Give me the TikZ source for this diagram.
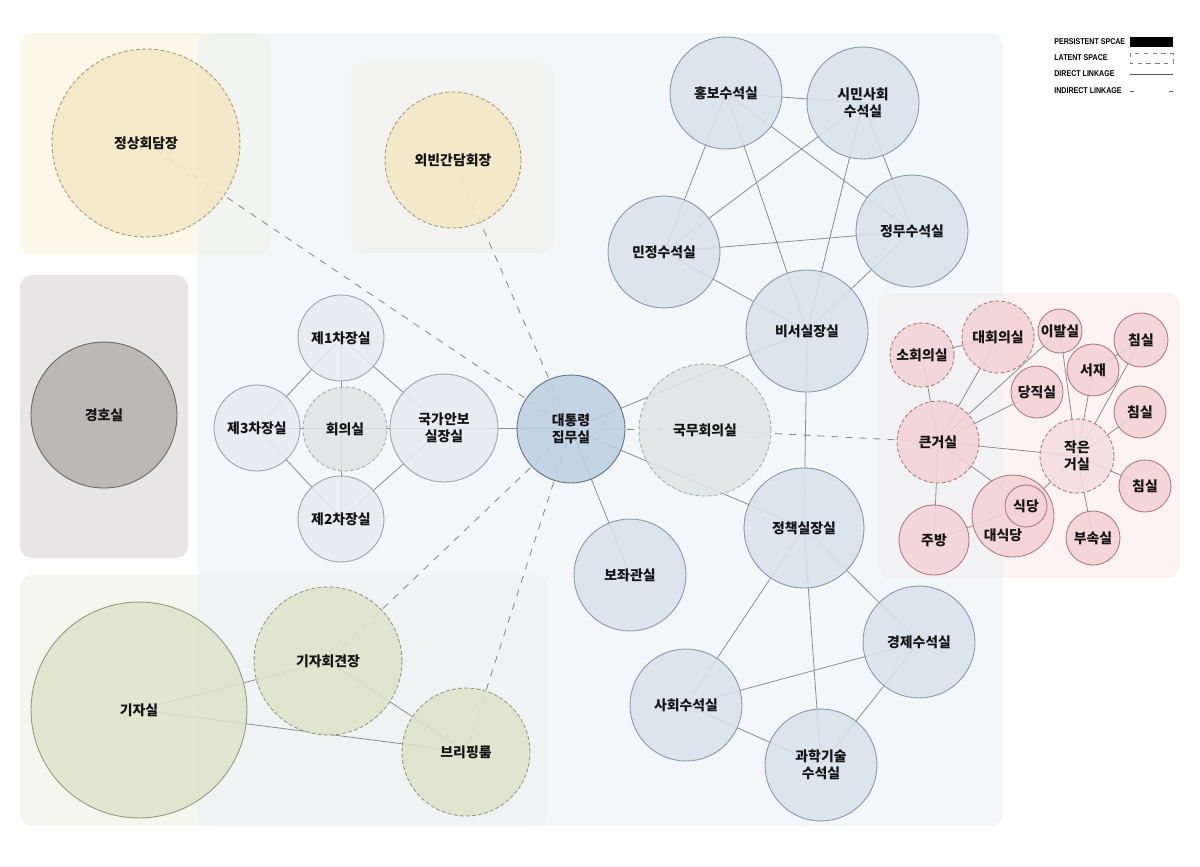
\documentclass[tikz,border=0pt]{standalone}
\usepackage{fontspec}
\usepackage{tikz}
\usetikzlibrary{positioning, calc}
\newfontfamily\kr{Noto Sans CJK KR}
\newfontfamily\leyenda{Liberation Sans}[FakeStretch=0.84]
\pgfdeclarelayer{fondo}
\pgfdeclarelayer{lineas}
\pgfsetlayers{fondo,lineas,main}
\definecolor{azulfondo}{HTML}{EBF2F7}
\definecolor{amarillofondo}{HTML}{FBF8EA}
\definecolor{grisfondo}{HTML}{F2F2F0}
\definecolor{escoltafondo}{HTML}{E7E5E6}
\definecolor{verdefondo}{HTML}{F5F6EE}
\definecolor{rosafondo}{HTML}{FDF3F3}
\definecolor{texto}{HTML}{151515}
\definecolor{linea}{HTML}{8C8C8C}
\tikzset{
	every node/.style={
		font=\kr\bfseries\fontsize{7.9}{9.6}\selectfont,
		text=texto
	},
	sala/.style={
		shape=circle,
		minimum size=#1*0.04cm,
		inner sep=0pt,
		align=center,
		draw,
		line width=0.5pt,
		fill opacity=0.88,
		text opacity=1
	},
	latente/.style={
		dash pattern=on 2.2pt off 1.3pt
	},
	secretaria/.style={
		fill={rgb,255:red,217;green,227;blue,237},
		draw={rgb,255:red,135;green,151;blue,168}
	},
	presidente/.style={
		fill={rgb,255:red,189;green,208;blue,226},
		draw={rgb,255:red,91;green,112;blue,136}
	},
	seguridad/.style={
		fill={rgb,255:red,232;green,236;blue,241},
		draw={rgb,255:red,154;green,163;blue,174}
	},
	consejo/.style={
		fill={rgb,255:red,224;green,229;blue,228},
		draw={rgb,255:red,157;green,179;blue,174},
		latente
	},
	cumbre/.style={
		fill={rgb,255:red,244;green,232;blue,196},
		draw={rgb,255:red,168;green,155;blue,120},
		latente
	},
	escolta/.style={
		fill={rgb,255:red,183;green,178;blue,176},
		draw={rgb,255:red,106;green,102;blue,99}
	},
	prensa/.style={
		fill={rgb,255:red,224;green,228;blue,203},
		draw={rgb,255:red,152;green,152;blue,126}
	},
	residencia/.style={
		fill={rgb,255:red,243;green,211;blue,214},
		draw={rgb,255:red,176;green,121;blue,126}
	},
	zona/.style={
		rounded corners=7pt
	},
	directo/.style={
		draw=linea,
		line width=0.45pt
	},
	indirecto/.style={
		draw=linea,
		line width=0.5pt,
		dash pattern=on 4pt off 4pt
	},
	rotulo/.style={
		font=\leyenda\bfseries\fontsize{4.8}{5}\selectfont,
		text=black,
		inner sep=0pt,
		anchor=west
	}
}

\begin{document}
\begin{tikzpicture}[x=0.02cm, y=-0.02cm]
\useasboundingbox (0,0) rectangle (1200,866);

\node [sala=94, cumbre] (jeongsang) at (146,143) {정상회담장};
\node [sala=68, cumbre] (oebin) at (453,160) {외빈간담회장};
\node [sala=73, escolta] (gyeongho) at (104,415) {경호실};
\node [sala=108, prensa] (gija) at (139,710) {기자실};
\node [sala=74, prensa, latente] (hoegyeon) at (328,661) {기자회견장};
\node [sala=64, prensa, latente] (briefing) at (466,752) {브리핑룸};

\node [sala=43, seguridad] (cha1) at (341,338) {제1차장실};
\node [sala=43, seguridad] (cha3) at (257,428) {제3차장실};
\node [sala=42, consejo] (hoeui) at (345,429) {회의실};
\node [sala=43, seguridad] (cha2) at (341,519) {제2차장실};
\node [sala=54, seguridad] (anbo) at (444,428) {국가안보\\실장실};
\node [sala=54, presidente] (daetong) at (571,429) {대통령\\집무실};
\node [sala=66, consejo] (gukmu) at (705,430) {국무회의실};
\node [sala=56, secretaria] (bojwa) at (630,575) {보좌관실};

\node [sala=56, secretaria] (hongbo) at (726,93) {홍보수석실};
\node [sala=56, secretaria] (simin) at (863,103) {시민사회\\수석실};
\node [sala=56, secretaria] (minjeong) at (664,252) {민정수석실};
\node [sala=56, secretaria] (jeongmu) at (912,231) {정무수석실};
\node [sala=61, secretaria] (biseo) at (807,331) {비서실장실};
\node [sala=60, secretaria] (jeongchaek) at (804,528) {정책실장실};
\node [sala=56, secretaria] (gyeongje) at (919,642) {경제수석실};
\node [sala=56, secretaria] (sahoe) at (686,705) {사회수석실};
\node [sala=56, secretaria] (gwahak) at (821,765) {과학기술\\수석실};

\node [sala=32, residencia, latente] (sohoe) at (922,355) {소회의실};
\node [sala=36, residencia, latente] (daehoe) at (998,337) {대회의실};
\node [sala=22, residencia] (ibal) at (1060,331) {이발실};
\node [sala=27, residencia] (chim1) at (1141,340) {침실};
\node [sala=26, residencia] (seojae) at (1093,370) {서재};
\node [sala=26, residencia] (dangjik) at (1037,392) {당직실};
\node [sala=26, residencia] (chim2) at (1140,412) {침실};
\node [sala=41, residencia, latente] (keun) at (938,442) {큰거실};
\node [sala=37, residencia, latente, fill={rgb,255:red,245;green,222;blue,224}] (jageun) at (1077,456) {작은\\거실};
\node [sala=26, residencia] (chim3) at (1145,486) {침실};
\node [sala=41, residencia] (daesik) at (1013,516) {};
\node (daesiktext) at ([shift={(-10,19)}]daesik.center) {대식당};
\node [sala=21, residencia] (sikdang) at (1026,506) {식당};
\node [sala=35, residencia] (jubang) at (934,540) {주방};
\node [sala=27, residencia] (busok) at (1093,538) {부속실};

\node [rotulo] (lper) at (1054,42) {PERSISTENT SPCAE};
\node [rotulo] (llat) at (1054,58) {LATENT SPACE};
\node [rotulo] (ldir) at (1054,74) {DIRECT LINKAGE};
\node [rotulo] (lind) at (1054,91) {INDIRECT LINKAGE};
\fill (1130,37) rectangle (1173,47);
\draw [draw=gray, line width=0.4pt, dash pattern=on 2.5pt off 2.5pt] (1130,53) rectangle (1173,63);
\draw [draw=gray!70!black, line width=0.5pt] (1130,74) -- (1173,74);
\draw [draw=gray!70!black, line width=0.5pt, dash pattern=on 2pt off 20.4pt] (1130,91) -- (1173,91);

\begin{pgfonlayer}{lineas}
\draw [indirecto] (daetong.center) -- (jeongsang.center);
\draw [indirecto] (daetong.center) -- (oebin.center);
\draw [indirecto] (daetong.center) -- (hoegyeon.center);
\draw [indirecto] (daetong.center) -- (briefing.center);
\draw [indirecto] (daetong.center) -- (gukmu.center);
\draw [indirecto] (gukmu.center) -- (keun.center);

\draw [directo] (cha1.center) -- (cha3.center);
\draw [directo] (cha1.center) -- (anbo.center);
\draw [directo] (cha3.center) -- (cha2.center);
\draw [directo] (cha2.center) -- (anbo.center);
\draw [directo] (cha1.center) -- (cha2.center);
\draw [directo] (cha3.center) -- (anbo.center);
\draw [directo] (anbo.center) -- (daetong.center);
\draw [directo] (daetong.center) -- (biseo.center);
\draw [directo] (daetong.center) -- (jeongchaek.center);
\draw [directo] (daetong.center) -- (bojwa.center);

\draw [directo] (hongbo.center) -- (simin.center);
\draw [directo] (hongbo.center) -- (minjeong.center);
\draw [directo] (hongbo.center) -- (biseo.center);
\draw [directo] (hongbo.center) -- (jeongmu.center);
\draw [directo] (simin.center) -- (minjeong.center);
\draw [directo] (simin.center) -- (biseo.center);
\draw [directo] (simin.center) -- (jeongmu.center);
\draw [directo] (minjeong.center) -- (jeongmu.center);
\draw [directo] (minjeong.center) -- (biseo.center);
\draw [directo] (jeongmu.center) -- (biseo.center);
\draw [directo] (biseo.center) -- (jeongchaek.center);

\draw [directo] (jeongchaek.center) -- (gyeongje.center);
\draw [directo] (jeongchaek.center) -- (sahoe.center);
\draw [directo] (jeongchaek.center) -- (gwahak.center);
\draw [directo] (sahoe.center) -- (gyeongje.center);
\draw [directo] (sahoe.center) -- (gwahak.center);
\draw [directo] (gyeongje.center) -- (gwahak.center);

\draw [directo] (gija.center) -- (hoegyeon.center);
\draw [directo] (gija.center) -- (briefing.center);
\draw [directo] (hoegyeon.center) -- (briefing.center);

\draw [directo] (sohoe.center) -- (daehoe.center);
\draw [directo] (sohoe.center) -- (keun.center);
\draw [directo] (keun.center) -- (jubang.center);
\draw [directo] (keun.center) -- (daehoe.center);
\draw [directo] (keun.center) -- (ibal.center);
\draw [directo] (keun.center) -- (dangjik.center);
\draw [directo] (keun.center) -- (jageun.center);
\draw [directo] (keun.center) -- (sikdang.center);
\draw [directo] (jubang.center) -- (sikdang.center);
\draw [directo] (sikdang.center) -- (jageun.center);
\draw [directo] (jageun.center) -- (ibal.center);
\draw [directo] (jageun.center) -- (busok.center);
\draw [directo] (jageun.center) -- (seojae.center);
\draw [directo] (jageun.center) -- (chim1.center);
\draw [directo] (jageun.center) -- (chim2.center);
\draw [directo] (jageun.center) -- (chim3.center);
\draw [directo] (seojae.center) -- (chim1.center);
\end{pgfonlayer}

\begin{pgfonlayer}{fondo}
\fill [zona, fill=amarillofondo] (20,33) rectangle (271,255);
\fill [zona, fill=escoltafondo] (20,275) rectangle (188,558);
\fill [zona, fill=verdefondo] (20,575) rectangle (547,826);
\fill [zona, fill=rosafondo] (878,293) rectangle (1180,578);
\fill [zona, fill=azulfondo, fill opacity=0.6] (198,33) rectangle (1003,826);
\fill [zona, fill=grisfondo] (351,63) rectangle (554,253);
\end{pgfonlayer}

\end{tikzpicture}
\end{document}
